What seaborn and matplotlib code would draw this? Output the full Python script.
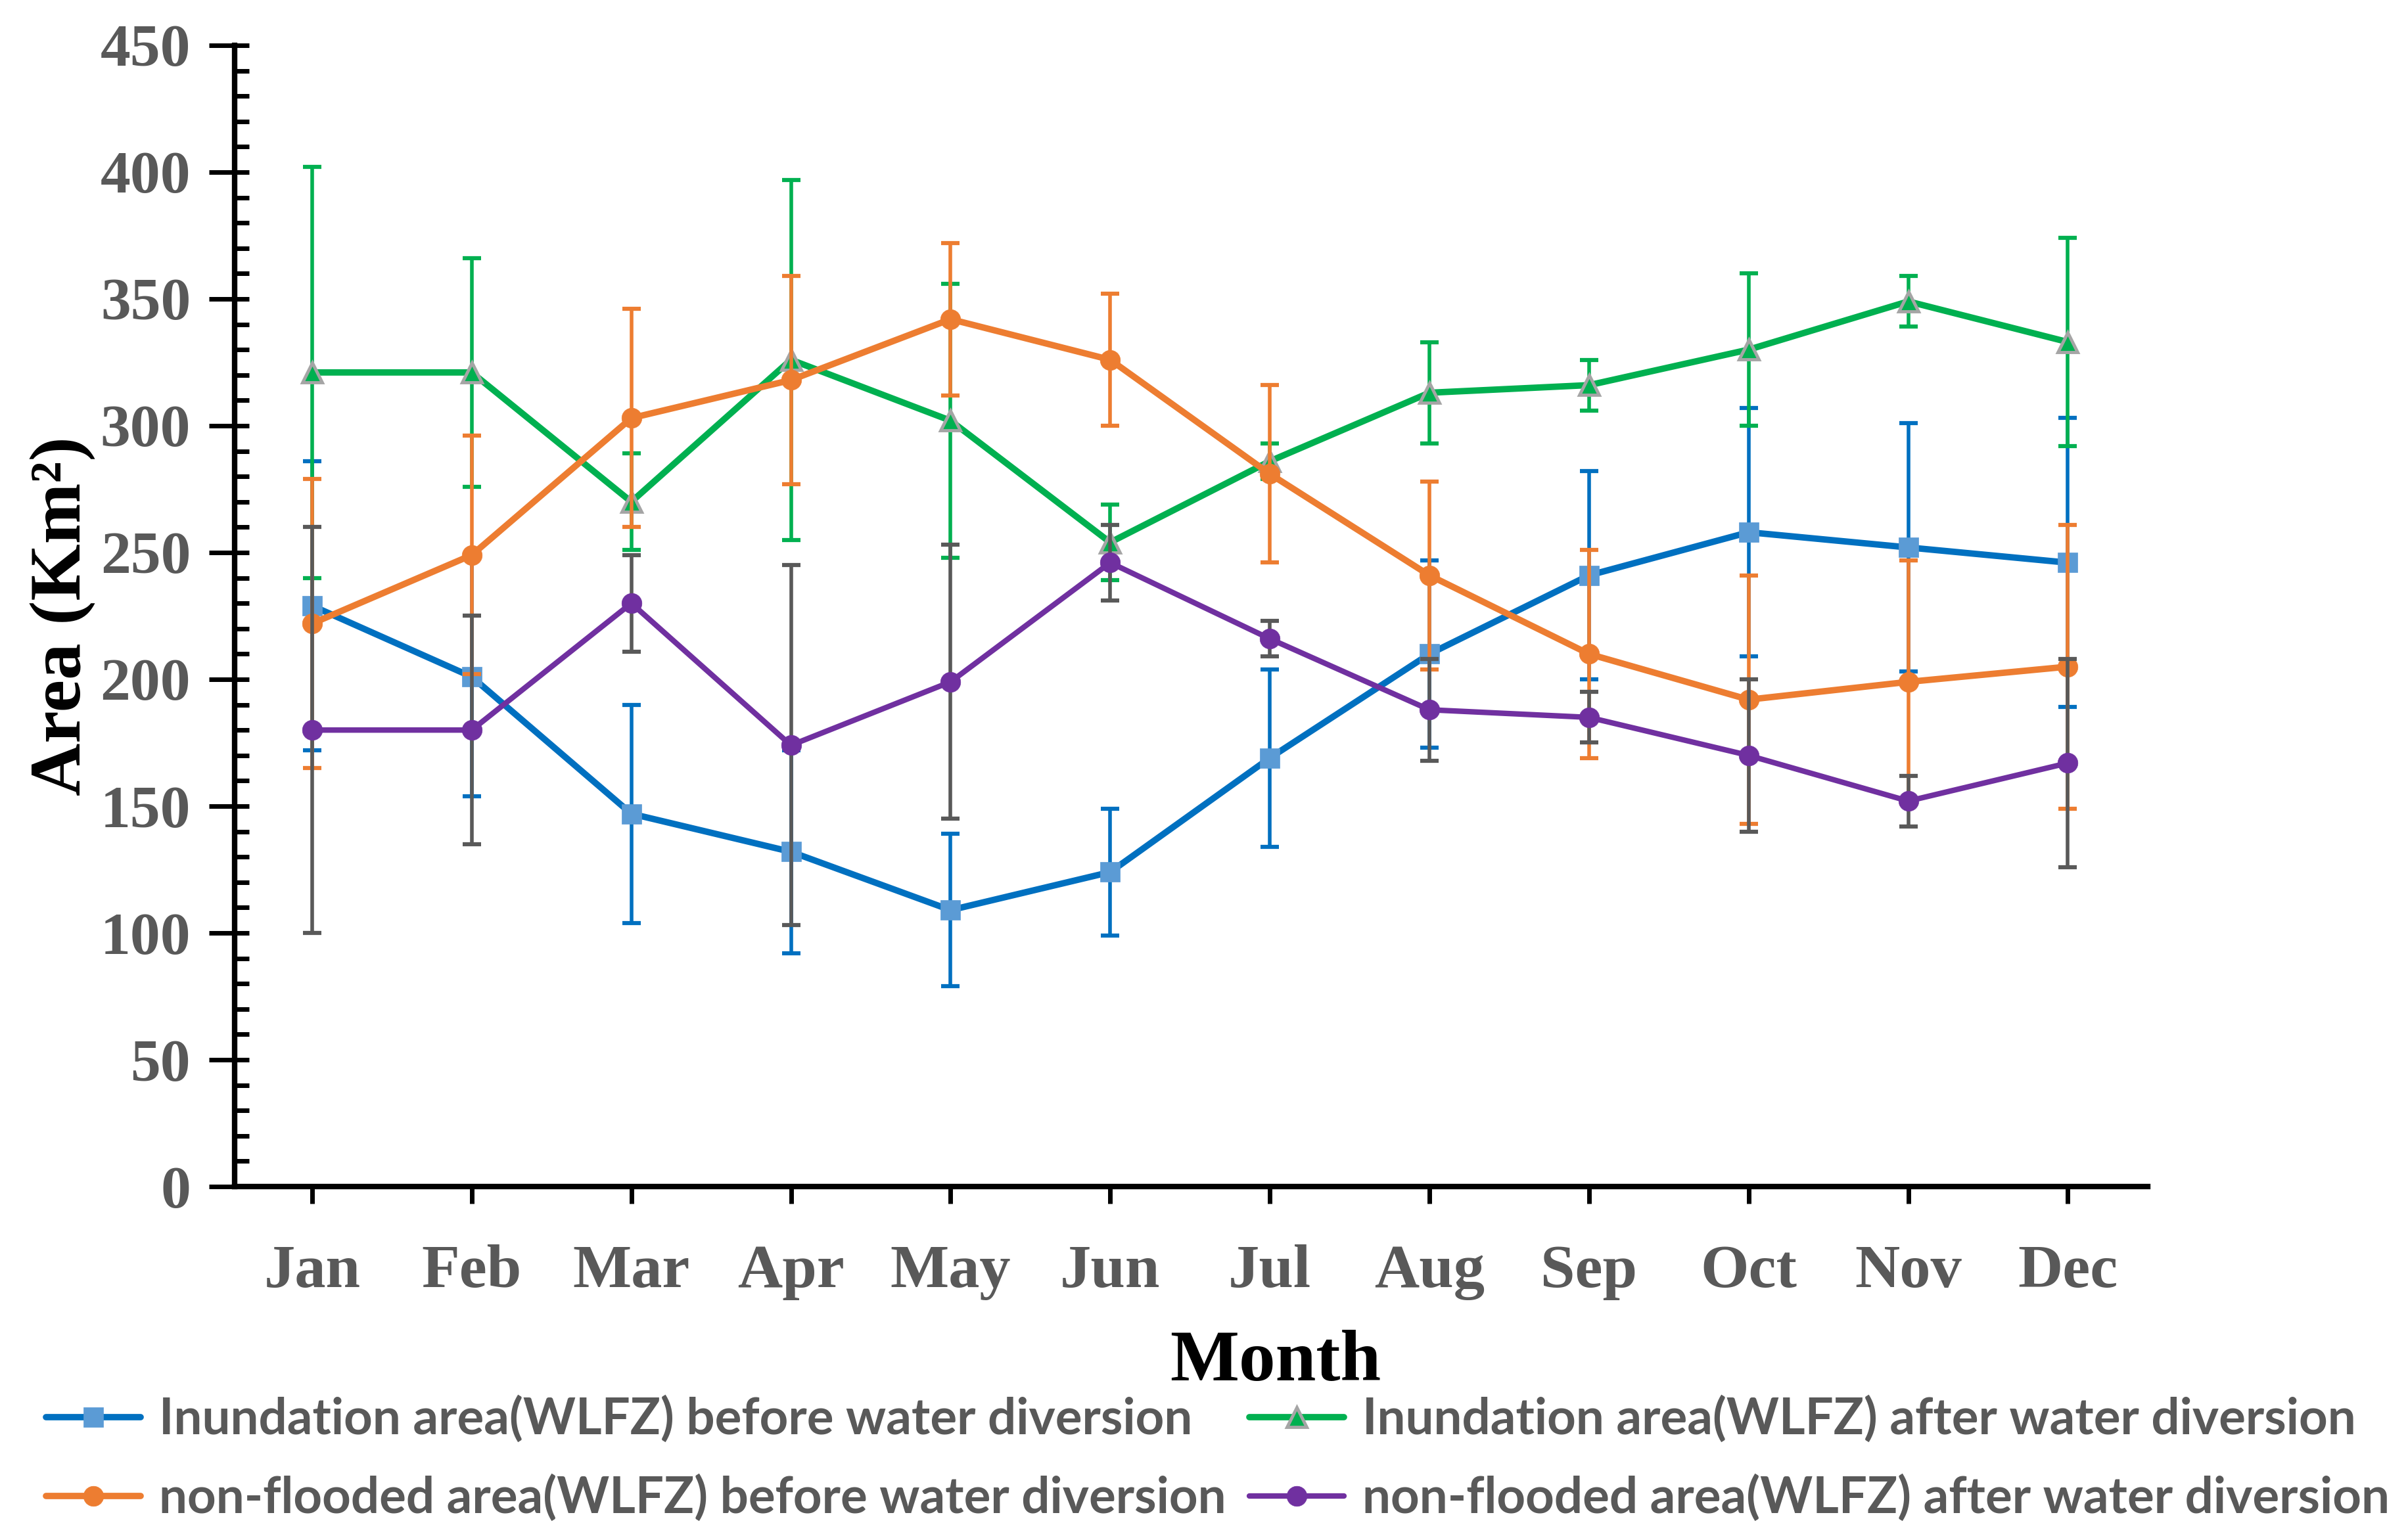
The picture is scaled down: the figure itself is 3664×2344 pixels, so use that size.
import numpy as np
import matplotlib
matplotlib.use("Agg")
import matplotlib.pyplot as plt
import seaborn as sns
from matplotlib.ticker import MultipleLocator

# dados (Km2)
months = ["Jan", "Feb", "Mar", "Apr", "May", "Jun",
          "Jul", "Aug", "Sep", "Oct", "Nov", "Dec"]

inund_before = [229, 201, 147, 132, 109, 124, 169, 210, 241, 258, 252, 246]
inund_before_err = [57, 47, 43, 40, 30, 25, 35, 37, 41, 49, 49, 57]

inund_after = [321, 321, 270, 326, 302, 254, 286, 313, 316, 330, 349, 333]
inund_after_err = [81, 45, 19, 71, 54, 15, 7, 20, 10, 30, 10, 41]

nonflood_before = [222, 249, 303, 318, 342, 326, 281, 241, 210, 192, 199, 205]
nonflood_before_err = [57, 47, 43, 41, 30, 26, 35, 37, 41, 49, 48, 56]

nonflood_after = [180, 180, 230, 174, 199, 246, 216, 188, 185, 170, 152, 167]
nonflood_after_err = [80, 45, 19, 71, 54, 15, 7, 20, 10, 30, 10, 41]

labels = ["Inundation area(WLFZ) before water diversion",
          "Inundation area(WLFZ) after water diversion",
          "non-flooded area(WLFZ) before water diversion",
          "non-flooded area(WLFZ) after water diversion"]

sns.set_style("ticks")
plt.rcParams['font.family'] = ['Liberation Serif', 'DejaVu Serif']
plt.rcParams['font.weight'] = 'bold'

DPI = 100
fig = plt.figure(figsize=(36.64, 23.44), dpi=DPI)
ax = fig.add_axes([0.0974, 0.2295, 0.7945, 0.7411])

x = np.arange(len(months))

# (valores, erro, cor linha, cor erro, marcador, face, borda, largura)
series = [
    (inund_before, inund_before_err, "#0070C0", "#0070C0", "s", "#5B9BD5", "#5B9BD5", 7.0),
    (inund_after, inund_after_err, "#00B050", "#00B050", "^", "#00B050", "#A5A5A5", 7.0),
    (nonflood_before, nonflood_before_err, "#ED7D31", "#ED7D31", "o", "#ED7D31", "#ED7D31", 7.0),
    (nonflood_after, nonflood_after_err, "#7030A0", "#595959", "o", "#7030A0", "#7030A0", 6.0),
]

for i, (vals, errs, lc, ec, mk, mfc, mec, lw) in enumerate(series):
    z = 2 + i
    ax.errorbar(x, vals, yerr=errs, fmt='none', ecolor=ec, elinewidth=4.0,
                capsize=10, capthick=4.5, zorder=z)
    sns.lineplot(x=x, y=vals, color=lc, marker=mk, markersize=22,
                 markerfacecolor=mfc, markeredgecolor=mec,
                 markeredgewidth=3.5 if mk == "^" else 0.5,
                 linewidth=lw, errorbar=None, label=labels[i],
                 ax=ax, zorder=z + 0.5)

ax.set_xlim(-0.486, 11.5)
ax.set_ylim(0, 450)
ax.set_xticks(x)
ax.set_xticklabels(months)
ax.yaxis.set_major_locator(MultipleLocator(50))
ax.yaxis.set_minor_locator(MultipleLocator(10))
ax.yaxis.remove_overlapping_locs = False

ax.tick_params(axis='y', which='major', direction='out', length=28, width=5,
               pad=20, labelsize=66, labelcolor='#595959', color='black')
ax.tick_params(axis='y', which='minor', direction='in', length=16, width=5,
               color='black')
ax.tick_params(axis='x', which='major', direction='out', length=19, width=5,
               pad=44, labelsize=68, labelcolor='#595959', color='black')

sns.despine(ax=ax)
for s in ['left', 'bottom']:
    ax.spines[s].set_linewidth(6)
    ax.spines[s].set_color('black')

ax.set_ylabel('Area (Km²)', fontsize=80, fontweight='bold', color='black', va='center')
ax.yaxis.set_label_coords(-0.0896, 0.5)
ax.set_xlabel('Month', fontsize=80, fontweight='bold', color='black', va='center')
ax.xaxis.set_label_coords(0.544, -0.154)

# legenda em duas colunas abaixo do gráfico
handles, labs = ax.get_legend_handles_labels()
if ax.legend_ is not None:
    ax.legend_.remove()
order = [0, 2, 1, 3]
handles = [handles[k] for k in order]
labs = [labs[k] for k in order]


def legenda(size, spacing):
    fpx = size * DPI / 72
    lg = fig.legend(handles, labs, loc='center left',
                    bbox_to_anchor=(70 / 3664, 1 - 2220 / 2344), ncol=2,
                    frameon=False,
                    prop={'family': ['Lato', 'Open Sans'], 'weight': 'bold', 'size': size},
                    handlelength=144 / fpx, handletextpad=28 / fpx,
                    columnspacing=35 / fpx, labelspacing=spacing,
                    borderaxespad=0, borderpad=0)
    for t in lg.get_texts():
        t.set_color('#595959')
    return lg


# ajusta o tamanho da fonte para a largura do texto original
size, spacing = 50, 0.6
leg = legenda(size, spacing)
fig.canvas.draw()
w = leg.get_texts()[0].get_window_extent().width
leg.remove()
size = size * 1576 / w
leg = legenda(size, spacing)
fig.canvas.draw()
t0 = leg.get_texts()[0].get_window_extent()
t1 = leg.get_texts()[1].get_window_extent()
pitch = (t0.y0 + t0.y1) / 2 - (t1.y0 + t1.y1) / 2
leg.remove()
spacing = spacing + (120 - pitch) / (size * DPI / 72)
leg = legenda(size, spacing)

fig.savefig('out.png', dpi=DPI)
